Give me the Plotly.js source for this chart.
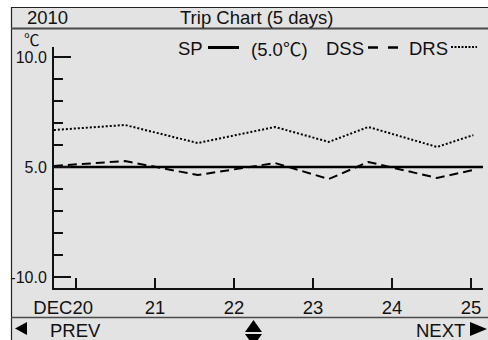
<!DOCTYPE html>
<html>
<head>
<meta charset="utf-8">
<script src="https://cdn.plot.ly/plotly-3.0.1.min.js"></script>
<style>
  html, body { margin: 0; padding: 0; background: #ffffff; }
  #chart { width: 488px; height: 340px; }
</style>
</head>
<body>
<div id="chart"></div>
<script>
// ---------------- data ----------------
const yearLabel = "2010";
const chartTitle = "Trip Chart (5 days)";
const unitLabel = "℃";
const xTickVals = [20, 21, 22, 23, 24, 25];
const xTickText = ["DEC20", "21", "22", "23", "24", "25"];
const yMajorVals = [-10, 5, 10];
const yMajorText = ["-10.0", "5.0", "10.0"];
const yMinorVals = [-7, -4, -1, 2, 6, 7, 8, 9];
const times = [19.72, 20.62, 21.54, 22.52, 23.20, 23.70, 24.57, 25.03];
const dssValues = [5.05, 5.27, 3.91, 5.18, 3.36, 5.23, 3.50, 4.59];
const drsValues = [6.68, 6.91, 6.09, 6.82, 6.14, 6.82, 5.91, 6.45];
const spTimes = [19.72, 25.16];
const spValues = [5.0, 5.0];
const spLabel = "SP";
const spNote = "(5.0℃)";
const dssLabel = "DSS";
const drsLabel = "DRS";
const prevLabel = "PREV";
const nextLabel = "NEXT";

// The device scale: 1 ℃ per division above the set point, 3 ℃ per division below.
function toAxis(v) { return v >= 5 ? v : 5 + (v - 5) / 3; }

// ---------------- layout helpers ----------------
const W = 488, H = 340;
const M = { l: 54, r: 5, t: 47, b: 52 };
const PW = W - M.l - M.r, PH = H - M.t - M.b;
const px = x => (x - M.l) / PW;
const py = y => (H - M.b - y) / PH;
const FONT = "Liberation Sans, Arial, Helvetica, DejaVu Sans, sans-serif";
const CJK = "Noto Sans CJK JP";
// draw the degree-Celsius sign with the CJK font, as on the device
const cjkDeg = s => s.replace(/℃/g, "<span style=\"font-family:'" + CJK + "'\">℃</span>");

function txt(text, cx, cy, size, anchor, family) {
  return { text: text, xref: "paper", yref: "paper", x: px(cx), y: py(cy),
    xanchor: anchor || "center", yanchor: "middle", showarrow: false,
    font: { family: family || FONT, size: size || 18.5, color: "#111" } };
}
function hline(x0, x1, y, w, c, dash) {
  return { type: "line", xref: "paper", yref: "paper", x0: px(x0), x1: px(x1),
    y0: py(y), y1: py(y), line: { color: c || "#111", width: w || 2, dash: dash || "solid" } };
}
function vline(x, y0, y1, w, c) {
  return { type: "line", xref: "paper", yref: "paper", x0: px(x), x1: px(x),
    y0: py(y0), y1: py(y1), line: { color: c || "#111", width: w || 1.5 } };
}
function poly(pts) {
  const d = pts.map((p, i) => (i ? "L" : "M") + px(p[0]) + "," + py(p[1])).join(" ") + " Z";
  return { type: "path", xref: "paper", yref: "paper", path: d,
    fillcolor: "#000", line: { width: 0 } };
}
function rect(x0, y0, x1, y1, fill) {
  return { type: "rect", xref: "paper", yref: "paper", layer: "below",
    x0: px(x0), x1: px(x1), y0: py(y0), y1: py(y1), fillcolor: fill, line: { width: 0 } };
}

// ---------------- traces ----------------
const traces = [
  { x: spTimes, y: spValues.map(toAxis), mode: "lines", name: spLabel,
    line: { color: "#000", width: 2.5 }, hoverinfo: "skip" },
  { x: times, y: dssValues.map(toAxis), mode: "lines", name: dssLabel,
    line: { color: "#000", width: 2, dash: "9px,5px" }, hoverinfo: "skip" },
  { x: times, y: drsValues.map(toAxis), mode: "lines", name: drsLabel,
    line: { color: "#000", width: 2, dash: "2px,2px" }, hoverinfo: "skip" }
];

// the month prefix sits left of the first day number on the device
const xTickShown = xTickText.map((t, i) => i === 0 ? t + "\u00a0".repeat(5) : t);

const layout = {
  width: W, height: H,
  margin: M,
  paper_bgcolor: "#e3e3e3",
  plot_bgcolor: "rgba(0,0,0,0)",
  showlegend: false,
  font: { family: FONT, color: "#111" },
  xaxis: {
    range: [19.7215, 25.152], fixedrange: true,
    tickmode: "array", tickvals: xTickVals, ticktext: xTickShown,
    ticks: "inside", ticklen: 10, tickwidth: 2, tickcolor: "#111",
    ticklabelstandoff: 2,
    showline: true, linewidth: 2, linecolor: "#111",
    showgrid: false, zeroline: false,
    tickfont: { family: FONT, size: 18.5, color: "#111" }
  },
  yaxis: {
    range: [-0.5, 10.4545], fixedrange: true,
    tickmode: "array", tickvals: yMajorVals.map(toAxis), ticktext: yMajorText,
    ticks: "inside", ticklen: 17, tickwidth: 2, tickcolor: "#111",
    ticklabelstandoff: 2,
    minor: { tickmode: "array", tickvals: yMinorVals.map(toAxis), ticks: "inside",
             ticklen: 9, tickwidth: 2, tickcolor: "#111", showgrid: false },
    showline: true, linewidth: 2, linecolor: "#111",
    showgrid: false, zeroline: false,
    tickfont: { family: FONT, size: 16, color: "#111" }
  },
  shapes: [
    rect(0, 0, 11, 340, "#ffffff"),
    rect(0, 0, 488, 7, "#ffffff"),
    hline(11, 488, 7.5, 1.2, "#222"),
    vline(11.5, 7, 340, 1.2, "#222"),
    hline(11, 488, 28.5, 2, "#4a4a4a"),
    hline(11, 488, 317.5, 1.5, "#4a4a4a"),
    // legend samples
    hline(208, 239, 47.5, 3, "#000"),
    hline(368, 398, 47.5, 2.5, "#000", "10px,10px"),
    hline(451, 477, 47, 2, "#000", "2px,1.5px"),
    // footer arrows
    poly([[27, 322], [27, 335], [15, 328.5]]),
    poly([[470, 322], [470, 336], [487, 329]]),
    poly([[245, 332], [262, 332], [253.5, 320]]),
    poly([[245, 334], [262, 334], [253.5, 346]])
  ],
  annotations: [
    txt(yearLabel, 47.5, 18),
    txt(chartTitle, 256.5, 18),
    txt(unitLabel, 31.5, 39, 15.5, "center", CJK),
    txt(spLabel, 190, 48),
    txt(cjkDeg(spNote), 249, 48, 18.5, "left"),
    txt(dssLabel, 345, 48),
    txt(drsLabel, 428, 48),
    txt(prevLabel, 75, 330),
    txt(nextLabel, 440, 330)
  ]
};

Plotly.newPlot("chart", traces, layout, { staticPlot: true, displayModeBar: false });
</script>
</body>
</html>
